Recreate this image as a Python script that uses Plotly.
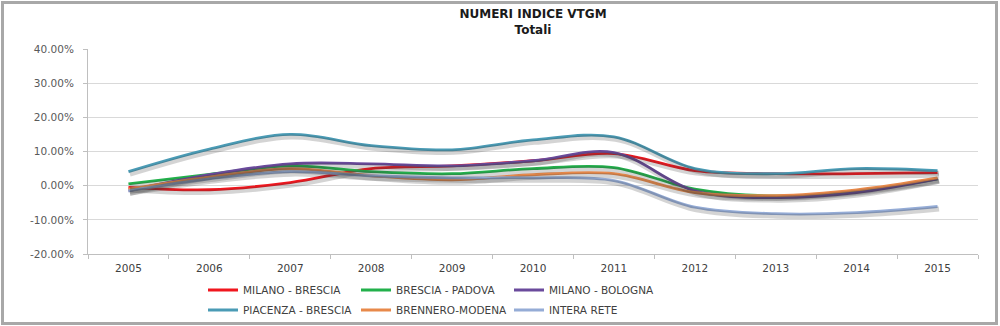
import plotly.graph_objects as go

# Years on the category axis
years = ["2005", "2006", "2007", "2008", "2009", "2010", "2011", "2012", "2013", "2014", "2015"]

# Index values (percent) per motorway section
milano_brescia = [-0.5, -1.2, 0.9, 5.0, 5.8, 7.3, 9.4, 4.4, 3.5, 3.5, 3.8]
brescia_padova = [0.5, 3.3, 5.8, 4.1, 3.5, 5.0, 5.3, -1.0, -3.0, -1.5, 2.0]
milano_bologna = [-1.5, 3.2, 6.4, 6.4, 5.8, 7.3, 9.7, -1.5, -3.5, -2.0, 2.0]
piacenza_brescia = [4.1, 10.7, 15.0, 11.7, 10.5, 13.4, 14.3, 5.0, 3.5, 5.0, 4.4]
brennero_modena = [-1.0, 2.5, 5.0, 2.9, 1.7, 3.2, 3.5, -2.0, -2.9, -1.2, 2.3]
intera_rete = [-1.5, 2.0, 4.1, 2.9, 2.3, 2.3, 1.5, -6.3, -8.2, -7.9, -6.1]

series_names = ["MILANO - BRESCIA", "BRESCIA - PADOVA", "MILANO - BOLOGNA",
                "PIACENZA - BRESCIA", "BRENNERO-MODENA", "INTERA RETE"]
series_values = [milano_brescia, brescia_padova, milano_bologna,
                 piacenza_brescia, brennero_modena, intera_rete]
series_colors = ["#F0161E", "#22B04B", "#6A4A9C", "#4A9BB5", "#E8894A", "#95ACD6"]

y_tickvals = [-20, -10, 0, 10, 20, 30, 40]
y_ticktext = ["-20.00%", "-10.00%", "0.00%", "10.00%", "20.00%", "30.00%", "40.00%"]

# Canvas geometry (pixels)
W, H = 1000, 326
ML, MR, MT, MB = 88, 22, 49, 72
PW, PH = W - ML - MR, H - MT - MB

def px_x(p):
    return (p - ML) / PW

def px_y(p):
    return (H - MB - p) / PH

fig = go.Figure()

# Soft drop shadows under each line (drawn on slightly shifted overlay axes)
for vals in series_values:
    fig.add_trace(go.Scatter(
        x=years, y=vals, mode="lines", line=dict(color="rgba(60,60,60,0.22)", width=5, shape="spline", smoothing=1.0),
        xaxis="x2", yaxis="y2", showlegend=False, hoverinfo="skip"))

for i, (name, vals, col) in enumerate(zip(series_names, series_values, series_colors)):
    fig.add_trace(go.Scatter(
        x=years, y=vals, name=name, mode="lines",
        line=dict(color=col, width=2.8, shape="spline", smoothing=1.0),
        legend="legend" if i < 3 else "legend2"))

font_fam = "DejaVu Sans"
shift_y = 2.5 * 60 / PH
shift_x = 1.5 / (PW / 11)

legend_style = dict(orientation="h", x=px_x(203), xanchor="left", yanchor="middle",
                    entrywidth=108, entrywidthmode="pixels", bgcolor="rgba(0,0,0,0)",
                    font=dict(family=font_fam, size=10.5, color="#404040"))

fig.update_layout(
    width=W, height=H,
    margin=dict(l=ML, r=MR, t=MT, b=MB, autoexpand=False),
    paper_bgcolor="white", plot_bgcolor="white",
    title=dict(text="<b>NUMERI INDICE VTGM</b><br><b>Totali</b>",
               x=0.5, xref="paper", xanchor="center", y=1 - 18 / H, yanchor="top",
               font=dict(family=font_fam, size=12, color="#1a1a1a")),
    xaxis=dict(type="category", range=[-0.5, 10.5], tickson="boundaries", ticks="outside",
               ticklen=4, tickcolor="#BFBFBF", showline=True, linecolor="#BFBFBF", linewidth=1,
               showgrid=False, ticklabelstandoff=4,
               tickfont=dict(family=font_fam, size=10.5, color="#404040")),
    yaxis=dict(range=[-20, 40], tickvals=y_tickvals, ticktext=y_ticktext, ticks="outside",
               ticklen=4, tickcolor="#BFBFBF", showline=True, linecolor="#BFBFBF", linewidth=1,
               showgrid=True, gridcolor="#D9D9D9", gridwidth=1, zeroline=False,
               ticklabelstandoff=7,
               tickfont=dict(family=font_fam, size=10.5, color="#595959")),
    xaxis2=dict(type="category", overlaying="x", range=[-0.5 - shift_x, 10.5 - shift_x], visible=False),
    yaxis2=dict(overlaying="y", range=[-20 + shift_y, 40 + shift_y], visible=False),
    legend=dict(legend_style, y=px_y(290)),
    legend2=dict(legend_style, y=px_y(310)),
    shapes=[dict(type="rect", xref="paper", yref="paper",
                 x0=px_x(2.5), x1=px_x(996.5), y0=px_y(323.5), y1=px_y(2.5),
                 line=dict(color="#A8A8A8", width=3), layer="below")],
)

fig.write_html("out.html")
